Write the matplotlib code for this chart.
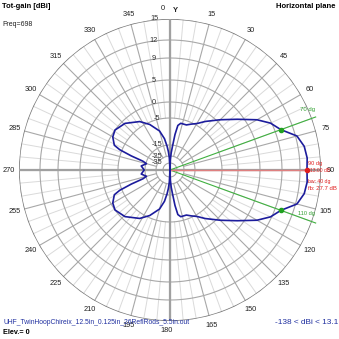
import numpy as np
import matplotlib
matplotlib.use("Agg")
import matplotlib.pyplot as plt
from matplotlib import font_manager

names = {f.name for f in font_manager.fontManager.ttflist}
NARROW = 'Liberation Sans Narrow' if 'Liberation Sans Narrow' in names else 'Liberation Sans'
plt.rcParams['font.family'] = [NARROW, 'DejaVu Sans']

# ---------------- data ----------------
right_angles = [0, 2, 4, 6, 8, 10, 13, 20, 25, 30, 36, 45, 53, 60, 65, 70, 75, 80, 85, 90,
                95, 100, 105, 110, 115, 120, 127, 135, 144, 150, 155, 160, 167, 170, 172, 174, 176, 178, 180]
right_gain = [-138, -30, -22, -16, -11, -7.5, -6.5, -6.5, -5.5, -4.5, -2.5, 0.7, 3.7, 6.9, 8.8, 10.0, 12.2, 12.9, 13.1, 13.0,
              13.1, 12.9, 12.2, 10.0, 8.8, 6.9, 3.7, 0.7, -2.5, -4.5, -5.5, -6.5, -6.5, -7.5, -11, -16, -22, -30, -138]
left_angles = [183, 185, 187, 190, 195, 204, 212, 224, 234, 240, 246, 248, 250, 252, 255, 262, 270,
               278, 285, 288, 290, 292, 294, 300, 306, 316, 328, 336, 345, 350, 353, 355, 357, 360]
left_gain = [-28, -21, -16, -12.5, -9.3, -5.8, -3.4, -1.0, 0.0, -0.6, -2.2, -4.3, -9.0, -13.7, -15.6, -13.5, -14.7,
             -13.5, -15.6, -13.7, -9.0, -4.3, -2.2, -0.6, 0.0, -1.0, -3.4, -5.8, -9.3, -12.5, -16, -21, -28, -138]

ring_db = [15, 12, 9, 5, 0, -5, -15, -25, -35]
ring_labels = ["15", "12", "9", "5", "0", "-5", "-15", "-25", "-35"]
angle_ticks = list(range(0, 360, 15))
max_dir, max_gain = 90, 13.0
bw_lo, bw_hi = 70, 110
bw, fb = 40, 27.7
gmin, gmax = -138, 13.1

# ---------------- figure ----------------
W = H = 339
fig = plt.figure(figsize=(W / 100, H / 100), dpi=100)
cx, cy, R = 170, 170, 151
ax = fig.add_axes([(cx - R) / W, (H - cy - R) / H, 2 * R / W, 2 * R / H], projection='polar')
ax.set_theta_zero_location('N')
ax.set_theta_direction(-1)
ax.set_ylim(0, 1)
ax.axis('off')

# radial scale of the plot (dB below top ring -> fraction of radius)
_kd = [0, 3, 6, 10, 15, 20, 30, 40, 50, 160]
_kr = [151, 130, 112, 90, 68, 52, 25, 14, 7, 0]


def sc(g):
    d = 15.0 - np.asarray(g, dtype=float)
    return np.interp(d, _kd, _kr) / 151.0


def px(x, y):
    return x / W, 1 - y / H


renderer = fig.canvas.get_renderer()


def fit_text(x, y, s, width, ha='left', **kw):
    t = fig.text(*px(x, y), s, ha=ha, va='center', fontsize=10, **kw)
    w = t.get_window_extent(renderer).width
    t.set_fontsize(10 * width / w)
    return t

# grid
for a in range(0, 360, 5):
    t = np.radians(a)
    if a % 15 == 0:
        ax.plot([t, t], [sc(-25), 1], color='#a8a8a8', lw=0.8, zorder=1)
    else:
        ax.plot([t, t], [sc(-5), 1], color='#dadada', lw=0.7, zorder=0.5)
tt = np.linspace(0, 2 * np.pi, 500)
for d in ring_db:
    lw = 1.1 if d == 15 else 0.8
    col = '#787878' if d == 15 else '#a8a8a8'
    ax.plot(tt, np.full_like(tt, sc(d)), color=col, lw=lw, zorder=1)
for a in (0, 90, 180, 270):
    t = np.radians(a)
    ax.plot([t, t], [0, 1], color='#a0a0a0', lw=1.6, zorder=1.2)

# beamwidth lines and max line
for a in (bw_lo, bw_hi):
    t = np.radians(a)
    ax.plot([t, t], [0, 155 / R], color='#40b040', lw=0.8, zorder=2, clip_on=False)
ax.plot([np.radians(max_dir)] * 2, [0, sc(max_gain)], color='#e08080', lw=1.0, zorder=2)

# pattern
ang = np.array(right_angles + left_angles, dtype=float)
gain = np.array(right_gain + left_gain, dtype=float)
ax.plot(np.radians(ang), sc(gain), color='#1c1c9c', lw=1.2, zorder=3)

ax.plot([np.radians(bw_lo), np.radians(bw_hi)], [sc(max_gain - 3)] * 2, 'o', color='#20a020', ms=3, zorder=4)
ax.plot([np.radians(max_dir)], [sc(max_gain)], 'o', color='#e02020', ms=3, zorder=4)

# angle labels
for a in angle_ticks:
    t = np.radians(a)
    if a == 0:
        fig.text(*px(163, 9), "0", fontsize=5.3, ha='center', va='center', color='#202020')
        continue
    if a == 180:
        fig.text(*px(167, 330), "180", fontsize=5.3, ha='center', va='center', color='#202020')
        continue
    rr = 161
    x = cx + rr * np.sin(t)
    y = cy - rr * np.cos(t)
    fig.text(*px(x, y), str(a), ha='center', va='center', fontsize=5.3, color='#202020')
fig.text(*px(175, 10), "Y", fontsize=5.5, fontweight='bold', ha='center', va='center', color='#202020')

# radial labels
for d, lab in zip(ring_db, ring_labels):
    rp = sc(d) * R
    xx = 154 if d >= 0 else 157
    fig.text(*px(xx, cy - rp), lab, fontsize=5.3, ha='center', va='center', color='#303030')

# annotations
fit_text(300, 110, f"{bw_lo} dg", 15, color='#30a030')
fit_text(298, 214, f"{bw_hi} dg", 17, color='#30a030')
fit_text(308, 163, f"{max_dir} dg", 14, color='#e02020')
fit_text(310, 171, f"{max_gain:.2f} dB", 20, color='#e02020')
fit_text(308, 181, f"bw: {bw} dg", 22, color='#e02020')
fit_text(308, 189, f"fb: {fb} dB", 29, color='#e02020')

# titles
fit_text(2, 7, "Tot-gain [dBi]", 48, fontweight='bold')
fit_text(336, 7, "Horizontal plane", 59, ha='right', fontweight='bold')
fit_text(2, 25, "Freq=698", 30, color='#202020')
fit_text(3, 323, "UHF_TwinHoopChireix_12.5in_0.125in_26ReflRods_5.5in.out", 185, color='#2030a0')
fit_text(3, 333, "Elev.= 0", 27, fontweight='bold')
fit_text(338, 323, f"{gmin} < dBi < {gmax}", 63, ha='right', color='#2030a0')

fig.savefig("out.png", dpi=100, facecolor='white')
